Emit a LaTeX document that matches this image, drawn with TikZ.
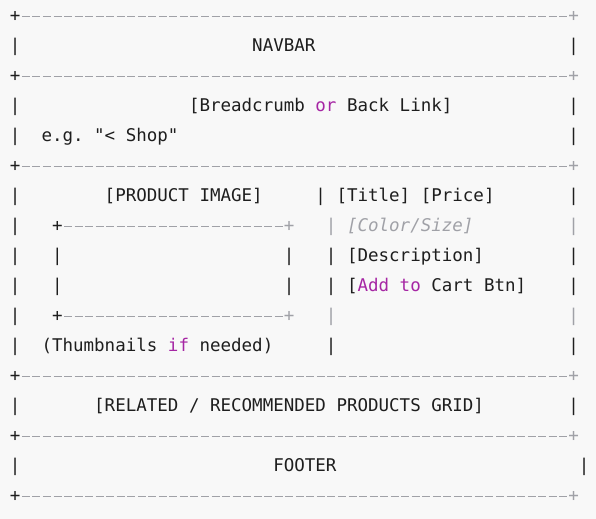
\documentclass[tikz,border=0pt]{standalone}
\usepackage{fontspec}
\setmonofont{DejaVu Sans Mono}
\definecolor{ink}{HTML}{1E1E1E}
\definecolor{keyword}{HTML}{A626A4}
\definecolor{comment}{HTML}{A0A1A7}
\definecolor{paper}{HTML}{F8F8F8}
\newcommand{\codefont}{\ttfamily\fontsize{17.5bp}{30bp}\selectfont}
\newcommand{\kw}[1]{\textcolor{keyword}{#1}}
\tikzstyle{code text}=[anchor=base west, inner sep=0, font=\codefont, text=ink]
\tikzstyle{comment text}=[code text, font=\codefont\itshape, text=comment]
\tikzstyle{dash rule}=[draw=comment, line width=1.2bp, dash pattern=on 8bp off 2.535bp, dash phase=9.27bp]

\begin{document}
\begin{tikzpicture}[x=10.535bp, y=-30bp]
      \useasboundingbox[fill=paper] (-9.73bp, 21.2bp) rectangle (586.27bp, -497.8bp);

      % horizontal rules of the page
      \foreach \r/\part in {0/top, 2/nav, 5/crumb, 12/main, 14/related, 16/bottom} {
        \node[code text] (\part_left) at (0, \r) {+};
        \node[comment text] (\part_right) at (53, \r) {+};
        \draw[dash rule] (\part_left.east) -- (\part_left.east -| \part_right.west);
      }

      % side walls
      \foreach \r in {1, 3, 4, 6, 7, 8, 9, 10, 11, 13, 15}
        \node[code text] (wall_l\r) at (0, \r) {|};
      \foreach \r in {1, 3, 4, 6, 8, 9, 11, 13}
        \node[code text] (wall_r\r) at (53, \r) {|};
      \foreach \r in {7, 10}
        \node[comment text] (wall_r\r) at (53, \r) {|};
      \node[code text] (wall_r15) at (54, 15) {|};

      % image frame
      \node[code text] (frame_tl) at (4, 7) {+};
      \node[comment text] (frame_tr) at (26, 7) {+};
      \node[code text] (frame_bl) at (4, 10) {+};
      \node[comment text] (frame_br) at (26, 10) {+};
      \draw[dash rule] (frame_tl.east) -- (frame_tl.east -| frame_tr.west);
      \draw[dash rule] (frame_bl.east) -- (frame_bl.east -| frame_br.west);
      \foreach \r in {8, 9} {
        \node[code text] (frame_l\r) at (4, \r) {|};
        \node[code text] (frame_r\r) at (26, \r) {|};
      }

      % split between image and details
      \node[code text] (split6) at (29, 6) {|};
      \foreach \r in {8, 9, 11}
        \node[code text] (split\r) at (30, \r) {|};
      \foreach \r in {7, 10}
        \node[comment text] (split\r) at (30, \r) {|};

      % labels
      \node[code text] (navbar) at (23, 1) {NAVBAR};
      \node[code text] (crumb) at (17, 3) {[Breadcrumb \kw{or} Back Link]};
      \node[code text] (shop) at (3, 4) {e.g. "< Shop"};
      \node[code text] (image) at (9, 6) {[PRODUCT IMAGE]};
      \node[code text] (title) at (31, 6) {[Title] [Price]};
      \node[comment text] (variant) at (32, 7) {[Color/Size]};
      \node[code text] (desc) at (32, 8) {[Description]};
      \node[code text] (cart) at (32, 9) {[\kw{Add} \kw{to} Cart Btn]};
      \node[code text] (thumbs) at (3, 11) {(Thumbnails \kw{if} needed)};
      \node[code text] (related) at (8, 13) {[RELATED / RECOMMENDED PRODUCTS GRID]};
      \node[code text] (footer) at (25, 15) {FOOTER};
    \end{tikzpicture}
\end{document}
